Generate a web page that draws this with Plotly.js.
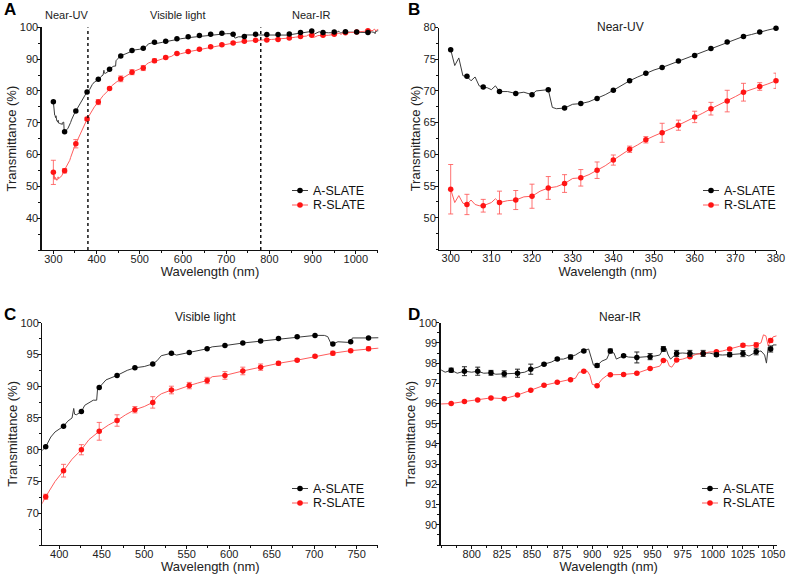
<!DOCTYPE html>
<html><head><meta charset="utf-8">
<script src="https://cdn.plot.ly/plotly-3.0.1.min.js"></script>
<style>html,body{margin:0;padding:0;background:#fff}#chart{width:789px;height:575px}</style>
</head><body><div id="chart"></div>
<script>
// ---------- DATA ----------
const seriesNames = ['A-SLATE', 'R-SLATE'];
const panelLetters = ['A', 'B', 'C', 'D'];
const regionNames = ['Near-UV', 'Visible light', 'Near-IR'];
const regionBounds = [380, 780];
const xTitle = 'Wavelength (nm)';
const yTitle = 'Transmittance (%)';

// continuous spectra
const lineWlA = [300,301,302,303,304,305,306,307,308,309,310,311,312,314,316,318,320,321,324,325,326,328,330,332,334,336,338,340,342,344,346,348,350,352,354,356,358,360,362,364,366,368,370,372,374,376,378,380,
 384,390,395,400,405,410,415,417,418,420,426,430,440,444,445,447,455,468,480,489,500,510,515,520,532,538,553,574,580,595,616,637,658,680,701,712,716,720,722,728,740,743,745,764,775,
 778,783,788,794,800,805,810,816,820,827,832,838,844,849,855,860,866,871,876,882,886,890,893,897,899,901,904,908,912,915,918,920,926,930,937,944,948,952,956,959,961,963,965,967,970,975,981,986,992,997,1003,1008,1014,1020,1025,1030,1036,1040,1043,1044.5,1046,1048,1050,1053];
const lineA = [76.5,74.0,75.2,72.4,72.3,71.6,72.2,70.8,70.6,70.5,70.2,70.8,69.9,69.9,69.6,69.8,69.4,70.0,70.2,67.4,67.2,67.3,67.9,68.0,68.3,68.8,69.4,70.1,70.9,71.6,72.2,72.8,73.3,73.7,74.2,74.7,75.2,75.6,76.2,76.7,77.2,77.7,78.2,78.6,78.9,79.3,79.6,79.9,
 80.45,82.0,82.8,83.2,83.7,84.5,85.0,86.5,85.6,85.5,86.0,87.0,87.8,87.8,89.5,89.8,91.0,91.7,92.5,92.9,93.1,93.5,94.0,94.8,95.2,94.9,95.3,95.9,96.2,96.4,96.8,97.1,97.5,97.8,98.0,98.0,97.8,96.65,96.65,97.0,96.9,97.0,97.6,97.6,97.65,
 97.55,97.65,97.5,97.6,97.55,97.6,97.5,97.52,97.45,97.47,97.45,97.5,97.55,97.7,97.8,97.95,98.05,98.2,98.2,98.3,98.4,98.55,98.6,98.7,98.3,97.9,97.88,98.1,98.2,98.6,98.5,98.2,98.37,98.3,98.28,98.3,98.32,98.35,98.4,98.7,98.75,98.4,98.2,98.3,98.48,98.5,98.48,98.45,98.48,98.5,98.42,98.4,98.42,98.45,98.47,98.35,98.56,98.6,98.4,98.0,98.8,98.7,98.9,98.9];

const lineWlR = [300,301,302,303,304,305,306,307,308,310,311,312,314,316,318,320,322,324,326,328,330,332,334,336,338,340,342,344,346,348,350,352,354,356,358,360,362,364,366,368,370,372,374,376,378,380,
 384,390,395,405,415,426,435,447,458,468,478,489,500,510,515,520,532,538,542,553,563,570,574,580,595,616,637,658,680,701,722,743,764,
 775,783,794,805,816,827,838,849,860,871,882,886,889,893,896,898,900,904,908,912,915,926,937,948,953,956,959,962,964,966,970,975,981,987,992,997,1003,1008,1014,1020,1025,1030,1036,1040,1042,1044,1046,1048,1050,1053];
const lineR = [54.5,52.4,53.5,52.3,52.1,52.8,52.1,51.9,51.9,52.4,53.0,52.4,52.7,52.8,53.3,53.4,54.2,54.7,54.9,55.4,56.2,56.3,56.8,57.5,58.2,59.1,60.0,60.8,61.5,62.3,62.9,63.4,64.0,64.6,65.2,65.9,66.5,67.2,67.8,68.4,69.1,69.8,70.2,70.7,71.1,71.6,
 72.6,74.0,75.0,76.7,78.5,80.0,81.6,82.9,83.9,84.6,85.5,86.3,86.8,87.45,88.3,88.8,89.4,89.4,89.6,90.1,90.5,90.8,90.9,91.5,91.7,92.4,93.0,93.6,94.1,94.7,95.2,95.6,95.9,
 95.98,96.0,96.1,96.18,96.28,96.24,96.42,96.66,96.9,97.05,97.18,97.25,97.55,97.6,97.6,97.4,96.95,96.88,97.2,97.38,97.42,97.44,97.5,97.73,97.8,97.85,98.13,98.15,97.85,97.8,98.15,98.2,98.32,98.45,98.47,98.55,98.56,98.6,98.7,98.8,98.88,98.85,98.9,99.0,99.4,99.35,98.85,99.12,99.3,99.35];

// panel A markers
const wlA = [300,326,352,378,404,430,456,482,508,534,560,586,612,638,664,690,716,742,768,794,820,846,872,898,924,950,976,1002,1028];
const aA  = [76.6,67.2,73.7,79.7,83.7,86.8,91.0,92.7,93.4,95.3,95.6,96.4,97.0,97.4,97.8,98.1,97.8,97.1,97.8,97.7,97.7,97.9,98.4,98.8,98.4,98.5,98.6,98.5,98.4];
const rA  = [54.4,54.9,63.4,71.2,76.5,80.8,83.8,85.9,87.2,89.5,90.5,91.8,92.4,93.1,93.9,94.5,95.1,95.6,95.9,96.0,96.2,96.6,97.1,97.5,97.5,97.8,98.3,98.5,98.9];
const rAerr = [3.8,0.7,1.3,0.5,0.8,0.4,0.9,0.8,0.8,0.6,0.4,0.3,0.3,0.3,0.3,0.3,0.3,0.2,0.2,0.2,0.2,0.2,0.2,0.2,0.2,0.2,0.2,0.2,0.3];

// panel B markers
const wlB = [300,304,308,312,316,320,324,328,332,336,340,344,348,352,356,360,364,368,372,376,380];
const aB  = [76.5,72.3,70.6,69.9,69.6,69.4,70.2,67.3,68.0,68.8,70.1,71.6,72.8,73.7,74.7,75.6,76.7,77.7,78.6,79.3,79.9];
const rB  = [54.5,52.1,51.9,52.4,52.8,53.4,54.7,55.4,56.3,57.5,59.1,60.8,62.3,63.4,64.6,65.9,67.2,68.4,69.8,70.7,71.6];
const rBerr = [3.9,1.6,1.0,1.8,1.5,1.9,1.8,1.4,1.3,1.3,0.8,0.5,0.5,1.5,0.8,0.9,1.0,1.7,1.4,0.6,1.2];

// panel C markers
const wlC = [384,405,426,447,468,489,510,532,553,574,595,616,637,658,680,701,722,743,764];
const aC  = [80.45,83.7,86.0,89.8,91.7,92.9,93.5,95.2,95.3,95.9,96.4,96.8,97.1,97.5,97.8,98.0,96.65,97.0,97.6];
const rC  = [72.6,76.7,80.0,82.9,84.6,86.3,87.45,89.4,90.1,90.9,91.7,92.4,93.0,93.6,94.1,94.7,95.2,95.6,95.9];
const rCerr = [0.4,1.0,0.8,1.4,0.9,0.5,0.9,0.6,0.5,0.5,0.6,0.6,0.5,0.3,0.2,0.2,0.3,0.2,0.3];

// panel D markers
const wlD = [783,794,805,816,827,838,849,860,871,882,893,904,915,926,937,948,959,970,981,992,1003,1014,1025,1036,1048];
const aD  = [97.65,97.6,97.6,97.52,97.47,97.5,97.7,97.95,98.2,98.3,98.6,97.88,98.6,98.37,98.28,98.32,98.7,98.48,98.48,98.48,98.42,98.42,98.47,98.56,98.7];
const aDerr = [0.1,0.22,0.2,0.12,0.15,0.2,0.25,0.05,0.05,0.1,0.05,0.08,0.1,0.05,0.27,0.15,0.12,0.15,0.15,0.15,0.08,0.1,0.15,0.15,0.15];
const rD  = [96.0,96.1,96.18,96.28,96.24,96.42,96.66,96.9,97.05,97.18,97.6,96.88,97.42,97.44,97.5,97.73,98.13,98.15,98.32,98.47,98.56,98.7,98.88,98.9,99.12];
const rDerr = [0.03,0.03,0.03,0.03,0.03,0.03,0.03,0.03,0.03,0.03,0.03,0.03,0.03,0.03,0.03,0.03,0.03,0.03,0.03,0.03,0.05,0.05,0.08,0.12,0.1];

// axis tick labels
const xTicksA = [300,400,500,600,700,800,900,1000];
const yTicksA = [40,50,60,70,80,90,100];
const xTicksB = [300,310,320,330,340,350,360,370,380];
const yTicksB = [50,55,60,65,70,75,80];
const xTicksC = [400,450,500,550,600,650,700,750];
const yTicksC = [70,75,80,85,90,95,100];
const xTicksD = [800,825,850,875,900,925,950,975,1000,1025,1050];
const yTicksD = [90,91,92,93,94,95,96,97,98,99,100];

// ---------- STYLE / LAYOUT ----------
const W = 789, H = 575;
const FONT = 'Liberation Sans, Arial, sans-serif';
const BLK = '#000000', BLK_LINE = '#3c3c3c';
const RED = '#ff1414', RED_LINE = '#ff5c5c', RED_ERR = 'rgba(255,90,90,0.85)';

const px2x = p => p / W, px2y = p => 1 - p / H;

const panels = [
  {id:'', xd:[41.7,378.3], yd:[27.3,250], xr:[273,1052], yr:[30,100], xt:xTicksA, yt:yTicksA, xm:50, ym:5,
   wl:wlA, a:aA, r:rA, aerr:null, rerr:rAerr},
  {id:'2', xd:[439.3,776], yd:[27.5,249.5], xr:[297.2,380], yr:[45,80], xt:xTicksB, yt:yTicksB, xm:5, ym:2.5,
   wl:wlB, a:aB, r:rB, aerr:null, rerr:rBerr},
  {id:'3', xd:[42.3,378.3], yd:[322.7,545], xr:[380,775.5], yr:[65,100], xt:xTicksC, yt:yTicksC, xm:25, ym:2.5,
   wl:wlC, a:aC, r:rC, aerr:null, rerr:rCerr},
  {id:'4', xd:[440.7,776.7], yd:[322.7,545], xr:[774.3,1053], yr:[89,100], xt:xTicksD, yt:yTicksD, xm:12.5, ym:0.5,
   wl:wlD, a:aD, r:rD, aerr:aDerr, rerr:rDerr}
];

const traces = [];
const layout = {
  width: W, height: H, margin: {l:0, r:0, t:0, b:0},
  paper_bgcolor: '#fff', plot_bgcolor: '#fff',
  showlegend: false,
  font: {family: FONT, color: '#222', size: 11},
  shapes: [], annotations: []
};

panels.forEach((p, i) => {
  const xa = 'x' + p.id, ya = 'y' + p.id;
  const axCommon = {
    showline: true, linecolor: '#111', linewidth: 1.3, mirror: false,
    ticks: 'outside', ticklen: 3, tickwidth: 1, tickcolor: '#111',
    showgrid: false, zeroline: false, tickfont: {family: FONT, size: 11, color: '#222'},
    tickmode: 'array', automargin: false
  };
  layout['xaxis' + p.id] = Object.assign({}, axCommon, {
    domain: [px2x(p.xd[0]), px2x(p.xd[1])], range: p.xr, anchor: ya, tickvals: p.xt,
    ticklabelstandoff: -5,
    minor: {tickmode: 'linear', tick0: 0, dtick: p.xm, ticks: 'outside', ticklen: 2, tickcolor: '#111', showgrid: false},
    title: {text: xTitle, font: {family: FONT, size: 13, color: '#222'}, standoff: 0}
  });
  layout['yaxis' + p.id] = Object.assign({}, axCommon, {
    domain: [px2y(p.yd[1]), px2y(p.yd[0])], range: p.yr, anchor: xa, tickvals: p.yt,
    ticklabelstandoff: -3,
    minor: {tickmode: 'linear', tick0: 0, dtick: p.ym, ticks: 'outside', ticklen: 2, tickcolor: '#111', showgrid: false},
    title: {text: yTitle, font: {family: FONT, size: 13, color: '#222'}, standoff: 0}
  });

  // continuous spectra
  traces.push({x: lineWlA, y: lineA, xaxis: xa, yaxis: ya, type: 'scatter', mode: 'lines',
    line: {color: BLK_LINE, width: 1}, hoverinfo: 'skip', name: seriesNames[0]});
  traces.push({x: lineWlR, y: lineR, xaxis: xa, yaxis: ya, type: 'scatter', mode: 'lines',
    line: {color: RED_LINE, width: 1}, hoverinfo: 'skip', name: seriesNames[1]});
  // markers
  const mA = {x: p.wl, y: p.a, xaxis: xa, yaxis: ya, type: 'scatter', mode: 'markers', cliponaxis: false,
    marker: {color: BLK, size: 5.5}, name: seriesNames[0]};
  if (p.aerr) mA.error_y = {type: 'data', array: p.aerr, visible: true, color: '#222', thickness: 1, width: 2.5};
  const mR = {x: p.wl, y: p.r, xaxis: xa, yaxis: ya, type: 'scatter', mode: 'markers', cliponaxis: false,
    marker: {color: RED, size: 5.5}, name: seriesNames[1],
    error_y: {type: 'data', array: p.rerr, visible: true, color: RED_ERR, thickness: 1, width: 2.5}};
  traces.push(mR, mA);
});

// dotted region boundaries in panel A
regionBounds.forEach(b => layout.shapes.push({type: 'line', xref: 'x', yref: 'y', x0: b, x1: b, y0: 30, y1: 100,
  line: {color: '#000', width: 1.4, dash: 'dot'}}));

// panel letters
const letterPos = [[10, 9.5], [414, 9.5], [10, 314.5], [414, 314.5]];
panelLetters.forEach((L, i) => layout.annotations.push({text: '<b>' + L + '</b>', xref: 'paper', yref: 'paper',
  x: px2x(letterPos[i][0]), y: px2y(letterPos[i][1]), xanchor: 'center', yanchor: 'middle', showarrow: false,
  font: {family: FONT, size: 17, color: '#000'}}));

// region labels
const regionLabels = [
  [regionNames[0], 66.7, 15, 11], [regionNames[1], 177, 15, 11], [regionNames[2], 311, 15, 11],
  [regionNames[0], 620, 27.5, 12], [regionNames[1], 206, 316.7, 12], [regionNames[2], 620, 316.7, 12]
];
regionLabels.forEach(r => layout.annotations.push({text: r[0], xref: 'paper', yref: 'paper',
  x: px2x(r[1]), y: px2y(r[2]), xanchor: 'center', yanchor: 'middle', showarrow: false,
  font: {family: FONT, size: r[3], color: '#222'}}));

// legends (one per panel)
const legendPos = [[300, 190.5], [711, 190.5], [300, 488.5], [710, 488.5]];
const legColors = [[BLK_LINE, BLK], [RED_LINE, RED]];
legendPos.forEach(lp => {
  seriesNames.forEach((nm, k) => {
    const yy = px2y(lp[1] + k * 14.5);
    layout.shapes.push({type: 'line', xref: 'paper', yref: 'paper', x0: px2x(lp[0] - 8), x1: px2x(lp[0] + 8), y0: yy, y1: yy,
      line: {color: legColors[k][0], width: 1}});
    layout.shapes.push({type: 'circle', xref: 'paper', yref: 'paper', xsizemode: 'pixel', ysizemode: 'pixel',
      xanchor: px2x(lp[0]), yanchor: yy, x0: -2.8, x1: 2.8, y0: -2.8, y1: 2.8,
      fillcolor: legColors[k][1], line: {width: 0}});
    layout.annotations.push({text: nm, xref: 'paper', yref: 'paper', x: px2x(lp[0] + 12), y: yy,
      xanchor: 'left', yanchor: 'middle', showarrow: false, borderpad: 0,
      font: {family: FONT, size: 12.5, color: '#111'}});
  });
});

Plotly.newPlot('chart', traces, layout, {staticPlot: true, displayModeBar: false});
</script>
</body></html>
